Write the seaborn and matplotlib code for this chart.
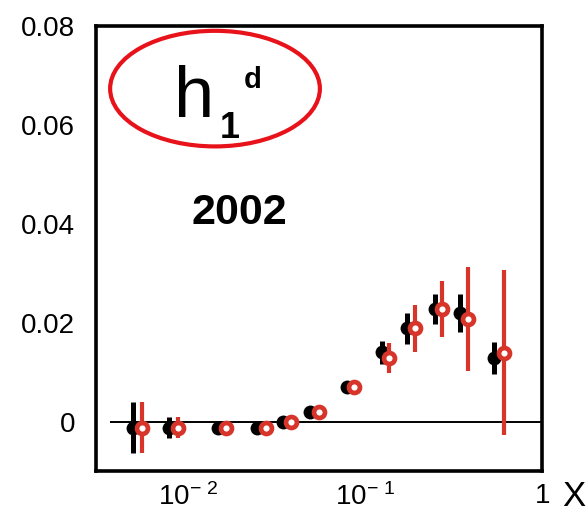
import numpy as np
import pandas as pd
import matplotlib
matplotlib.use("Agg")
import matplotlib.pyplot as plt
from matplotlib.patches import Ellipse
from matplotlib.ticker import LogLocator, MultipleLocator, NullFormatter
import seaborn as sns

# ---- data ----
x_black = [0.00487, 0.00781, 0.0147, 0.0244, 0.0345, 0.0489, 0.0788, 0.124, 0.172, 0.249, 0.344, 0.537]
y_black = [-0.0012, -0.0012, -0.0012, -0.0012, -0.0001, 0.0019, 0.0069, 0.0140, 0.0189, 0.0228, 0.0220, 0.0129]
e_black = [0.0052, 0.0021, 0.0004, 0.0004, 0.0004, 0.0005, 0.0006, 0.0024, 0.0031, 0.0030, 0.0038, 0.0033]

x_red = [0.00548, 0.00870, 0.0164, 0.0275, 0.0382, 0.0547, 0.0866, 0.1365, 0.1915, 0.2706, 0.381, 0.606]
y_red = [-0.0012, -0.0012, -0.0012, -0.0012, -0.0001, 0.0019, 0.0069, 0.0129, 0.0189, 0.0228, 0.0208, 0.0139]
e_red = [0.0052, 0.0021, 0.0004, 0.0004, 0.0004, 0.0005, 0.0006, 0.0031, 0.0048, 0.0057, 0.0105, 0.0167]

y_ticks = [0, 0.02, 0.04, 0.06, 0.08]
y_tick_labels = ["0", "0.02", "0.04", "0.06", "0.08"]
x_ticks = [0.01, 0.1, 1]
x_tick_labels = [r"$\mathregular{10^{-\ 2}}$", r"$\mathregular{10^{-\ 1}}$", "1"]

sns.set_style("white")
plt.rcParams["font.family"] = ["Liberation Sans", "DejaVu Sans"]
plt.rcParams["mathtext.fontset"] = "custom"
plt.rcParams["mathtext.rm"] = "Liberation Sans"
plt.rcParams["text.color"] = "black"
plt.rcParams["xtick.color"] = "black"
plt.rcParams["ytick.color"] = "black"

black_df = pd.DataFrame({"x": x_black, "y": y_black})
red_df = pd.DataFrame({"x": x_red, "y": y_red})

fig = plt.figure(figsize=(5.88, 5.17), dpi=100)
ax = fig.add_axes([0.163, 0.089, 0.759, 0.860])

RED = "#d8352a"

ax.errorbar(x_black, y_black, yerr=e_black, fmt="none", ecolor="black", elinewidth=3.6, capsize=0, zorder=3)
sns.scatterplot(data=black_df, x="x", y="y", ax=ax, color="black", s=100, edgecolor="black", linewidth=0, zorder=4)
ax.errorbar(x_red, y_red, yerr=e_red, fmt="none", ecolor=RED, elinewidth=3.0, capsize=0, zorder=5)
sns.scatterplot(data=red_df, x="x", y="y", ax=ax, color="white", s=62, edgecolor=RED, linewidth=3.4, zorder=6)

ax.hlines(0, 0.0036, 1, color="black", linewidth=1.4, zorder=2)

ax.set_xscale("log")
ax.set_xlim(0.003, 1)
ax.set_ylim(-0.01, 0.08)
ax.set_xlabel("")
ax.set_ylabel("")

ax.set_xticks(x_ticks)
ax.set_xticklabels(x_tick_labels)
ax.xaxis.set_minor_locator(LogLocator(base=10, subs=np.arange(2, 10)))
ax.xaxis.set_minor_formatter(NullFormatter())
ax.set_yticks(y_ticks)
ax.set_yticklabels(y_tick_labels)
ax.yaxis.set_minor_locator(MultipleLocator(0.01))

ax.tick_params(axis="both", which="major", direction="in", length=7, width=2, colors="black")
ax.tick_params(axis="y", which="major", pad=15, labelsize=20)
ax.tick_params(axis="x", which="major", pad=9, labelsize=20)
ax.tick_params(axis="both", which="minor", direction="in", length=3.5, width=1.5)
ax.tick_params(top=False, right=False, which="both")

for s in ax.spines.values():
    s.set_linewidth(2.6)
    s.set_color("black")
    s.set_visible(True)

ax.text(1.045, -0.058, "X", transform=ax.transAxes, fontsize=25, ha="left", va="center")

ax.text(0.22, 0.838, "h", transform=ax.transAxes, fontsize=52, ha="center", va="center")
ax.text(0.299, 0.770, "1", transform=ax.transAxes, fontsize=26, ha="center", va="center", fontweight="bold")
ax.text(0.352, 0.880, "d", transform=ax.transAxes, fontsize=21, ha="center", va="center", fontweight="bold")
ax.text(0.322, 0.581, "2002", transform=ax.transAxes, fontsize=31, ha="center", va="center", fontweight="bold")

ell = Ellipse((0.267, 0.860), width=0.47, height=0.26, transform=ax.transAxes,
              fill=False, edgecolor="#e8121a", linewidth=3, zorder=7, clip_on=False)
ax.add_patch(ell)

fig.savefig("out.png", dpi=100)
